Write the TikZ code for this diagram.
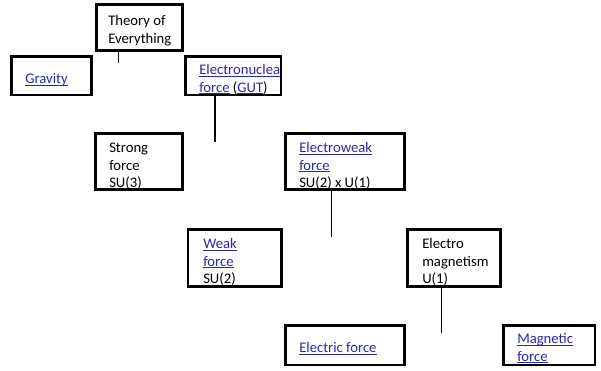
\documentclass[tikz,border=0pt]{standalone}
\usepackage{fontspec}
\setmainfont{Carlito}
\usetikzlibrary{fit}
\definecolor{linkblue}{RGB}{40,40,175}
\newsavebox{\mylinkbox}
\newcommand{\mylink}[1]{\sbox{\mylinkbox}{\textcolor{linkblue}{#1}}\rlap{\textcolor{linkblue}{\rule[-1.6pt]{\wd\mylinkbox}{0.6pt}}}\usebox{\mylinkbox}}
\tikzset{
  box/.style={draw=black, line width=2.2pt, inner sep=0pt, rectangle},
  txt/.style={anchor=north west, inner sep=0pt, align=left, font=\fontsize{11}{13.3}\selectfont, text=black},
  conn/.style={draw=black, line width=1pt},
}
\begin{document}
\begin{tikzpicture}[x=0.75pt,y=-0.75pt]
\useasboundingbox (0,0) rectangle (601,371);
% boxes
\node[box, fit={(96.5,4.5)(182.5,50.5)}] (toe) {};
\node[box, fit={(11.5,56.5)(91.5,95)}] (grav) {};
\node[box, fit={(185.5,56.5)(281,95)}] (enuc) {};
\node[box, fit={(95.7,133.7)(182.3,189.8)}] (strong) {};
\node[box, fit={(285.3,133.7)(404.7,189.8)}] (ew) {};
\node[box, fit={(188,229.7)(281.7,286.5)}] (weak) {};
\node[box, fit={(407.5,229.7)(500.5,286.5)}] (em) {};
\node[box, fit={(285.8,325.8)(404.2,365)}] (elec) {};
\node[box, fit={(503.5,325.8)(595,365)}] (mag) {};
% texts
\node[txt] (toeT) at (108,12.6) {\strut Theory of\\Everything};
\node[txt] (gravT) at (25,70.6) {\strut\mylink{Gravity}};
\node[txt] (enucT) at (199,61.6) {\strut\mylink{Electronuclea}\\\mylink{force} (\mylink{GUT})};
\node[txt] (strongT) at (109,139.6) {\strut Strong\\force\\SU(3)};
\node[txt] (ewT) at (299,139.6) {\strut\mylink{Electroweak}\\\mylink{force}\\SU(2) x U(1)};
\node[txt] (weakT) at (203,235.6) {\strut\mylink{Weak}\\\mylink{force}\\SU(2)};
\node[txt] (emT) at (422,235.6) {\strut Electro\\magnetism\\U(1)};
\node[txt] (elecT) at (299,339.6) {\strut\mylink{Electric force}};
\node[txt] (magT) at (517,330.6) {\strut\mylink{Magnetic}\\\mylink{force}};
% connector free ends
\coordinate (toeEnd) at (118.5,63);
\coordinate (enucEnd) at (215,141.7);
\coordinate (ewEnd) at (331.8,237.3);
\coordinate (emEnd) at (441.8,333.3);
\draw[conn] (toeEnd |- toe.south) -- (toeEnd);
\draw[conn] (enucEnd |- enuc.south) -- (enucEnd);
\draw[conn] (ewEnd |- ew.south) -- (ewEnd);
\draw[conn] (emEnd |- em.south) -- (emEnd);
\end{tikzpicture}
\end{document}
